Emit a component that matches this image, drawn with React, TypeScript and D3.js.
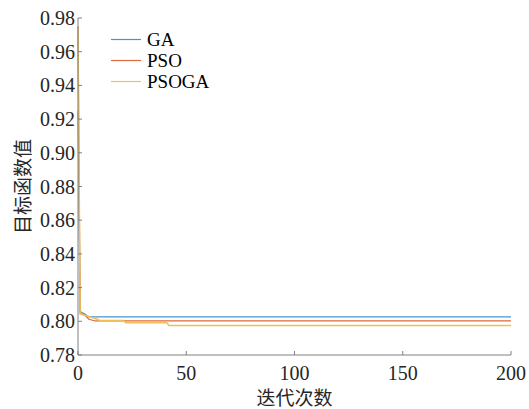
import React from "react";
import * as d3 from "d3";

const seriesNames = ["GA", "PSO", "PSOGA"];
const seriesColors = ["#4a92cf", "#db6a3c", "#efbf5a"];
const gaIter = [0, 1, 2, 3, 5, 200];
const gaValue = [0.925, 0.806, 0.805, 0.8045, 0.8026, 0.8026];
const psoIter = [0, 1, 3, 5, 8, 200];
const psoValue = [0.975, 0.8044, 0.8038, 0.8012, 0.8002, 0.8002];
const psogaIter = [0, 1, 2, 9, 10, 21, 22, 41, 42, 200];
const psogaValue = [0.974, 0.8045, 0.804, 0.8012, 0.8005, 0.8005, 0.7992, 0.7992, 0.7975, 0.7975];
const xTicks = [0, 50, 100, 150, 200];
const yTicks = [0.78, 0.8, 0.82, 0.84, 0.86, 0.88, 0.9, 0.92, 0.94, 0.96, 0.98];
const xLabel = "迭代次数";
const yLabel = "目标函数值";

const W = 529;
const H = 409;
const left = 78;
const right = 511;
const top = 18;
const bottom = 355;
const font = "'Liberation Serif', 'Times New Roman', serif";
const cjkFont = "'Noto Sans CJK SC', sans-serif";
const axisColor = "#808080";
const textColor = "#262626";

export default function App() {
  const x = d3.scaleLinear().domain([0, 200]).range([left, right]);
  const y = d3.scaleLinear().domain([0.78, 0.98]).range([bottom, top]);
  const line = d3
    .line<[number, number]>()
    .x((d) => x(d[0]))
    .y((d) => y(d[1]));
  const series = [
    gaIter.map((v, i) => [v, gaValue[i]] as [number, number]),
    psoIter.map((v, i) => [v, psoValue[i]] as [number, number]),
    psogaIter.map((v, i) => [v, psogaValue[i]] as [number, number]),
  ];
  const legendY = [39.5, 60.5, 81.5];
  return (
    <svg
      width={W}
      height={H}
      style={{ position: "absolute", left: 0, top: 0, background: "#fff" }}
    >
      {[0, 1, 2].map((k) => (
        <path
          key={k}
          d={line(series[k]) || ""}
          fill="none"
          stroke={seriesColors[k]}
          strokeWidth={k === 2 ? 1.5 : 1.2}
        />
      ))}
      <line x1={left} x2={left} y1={top} y2={bottom} stroke={axisColor} strokeWidth={1} />
      <line x1={left} x2={right} y1={bottom} y2={bottom} stroke={axisColor} strokeWidth={1} />
      {yTicks.map((t) => (
        <g key={"y" + t}>
          <line x1={left} x2={left + 4} y1={y(t)} y2={y(t)} stroke={axisColor} />
          <text
            x={left - 3}
            y={y(t)}
            textAnchor="end"
            dominantBaseline="central"
            fontFamily={font}
            fontSize={20}
            fill={textColor}
          >
            {t.toFixed(2)}
          </text>
        </g>
      ))}
      {xTicks.map((t) => (
        <g key={"x" + t}>
          <line x1={x(t)} x2={x(t)} y1={bottom} y2={bottom - 4} stroke={axisColor} />
          <text
            x={x(t)}
            y={380}
            textAnchor="middle"
            fontFamily={font}
            fontSize={20}
            fill={textColor}
          >
            {t}
          </text>
        </g>
      ))}
      <text
        x={(left + right) / 2}
        y={405}
        textAnchor="middle"
        fontFamily={cjkFont}
        fontSize={19}
        fill={textColor}
      >
        {xLabel}
      </text>
      <text
        transform={`translate(30,${(top + bottom) / 2}) rotate(-90)`}
        textAnchor="middle"
        fontFamily={cjkFont}
        fontSize={19}
        fill={textColor}
      >
        {yLabel}
      </text>
      {seriesNames.map((n, i) => (
        <g key={n}>
          <line x1={111} x2={141} y1={legendY[i]} y2={legendY[i]} stroke={seriesColors[i]} strokeWidth={1.2} />
          <text
            x={147}
            y={legendY[i]}
            dominantBaseline="central"
            fontFamily={font}
            fontSize={19}
            fill="#000"
          >
            {n}
          </text>
        </g>
      ))}
    </svg>
  );
}
